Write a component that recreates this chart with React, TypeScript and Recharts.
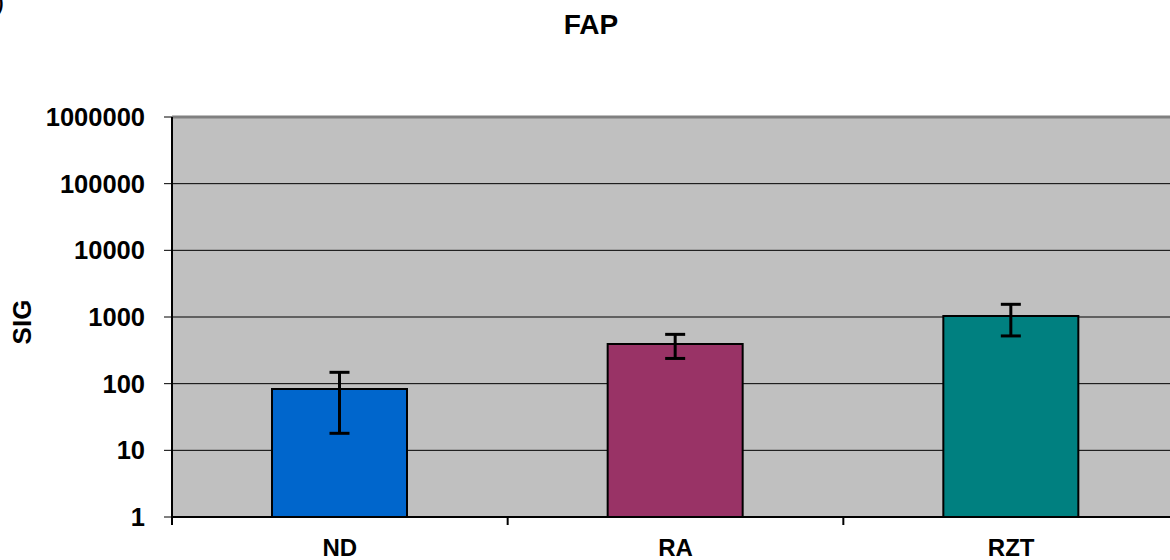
import { BarChart, Bar, Cell, XAxis, YAxis, CartesianGrid, ErrorBar, ReferenceLine, Label } from "recharts";

const groups = ["ND", "RA", "RZT"];
const sigValues = [83, 394, 1035];
const sigErrors = [65, 155, 515];
const barColors = ["#0066CC", "#993366", "#008080"];
const yTicks = [1, 10, 100, 1000, 10000, 100000, 1000000];

const data = groups.map((name, i) => ({
  name,
  sig: sigValues[i],
  err: sigErrors[i],
}));

const FONT = '"Liberation Sans", Arial, sans-serif';
const CHART_W = 1190;
const CHART_H = 560;
const MARGIN = { top: 117, right: 11, bottom: 0, left: 0 };
const Y_AXIS_W = 172;
const BAND = (CHART_W - MARGIN.left - MARGIN.right - Y_AXIS_W) / groups.length;

const CategoryTick = ({ x, y, payload, index }: any) => (
  <g>
    <line x1={x - BAND / 2} x2={x - BAND / 2} y1={y - 22} y2={y - 14} stroke="#000" strokeWidth={2} />
    {index === groups.length - 1 && (
      <line x1={x + BAND / 2} x2={x + BAND / 2} y1={y - 22} y2={y - 14} stroke="#000" strokeWidth={2} />
    )}
    <text x={x} y={y} dy="0.71em" textAnchor="middle" fill="#000" fontSize={24} fontWeight="bold" fontFamily={FONT}>
      {payload.value}
    </text>
  </g>
);

export default function App() {
  return (
    <div
      style={{
        position: "absolute",
        left: 0,
        top: 0,
        width: 1170,
        height: 560,
        overflow: "hidden",
        background: "#fff",
        fontFamily: FONT,
      }}
    >
      <div style={{ position: "absolute", left: -5, top: -12, fontSize: 28, lineHeight: "28px", color: "#000" }}>)</div>
      <div
        style={{
          position: "absolute",
          left: 0,
          top: 11,
          width: 1182,
          textAlign: "center",
          fontSize: 28,
          lineHeight: "28px",
          fontWeight: "bold",
          color: "#000",
        }}
      >
        FAP
      </div>
      <BarChart width={CHART_W} height={CHART_H} data={data} margin={MARGIN} barSize={135}>
        <CartesianGrid vertical={false} stroke="#000" strokeWidth={1} fill="#C0C0C0" fillOpacity={1} />
        <XAxis
          dataKey="name"
          height={43}
          axisLine={{ stroke: "#000", strokeWidth: 2 }}
          tickLine={{ stroke: "none" }}
          tickSize={8}
          tickMargin={14}
          tick={<CategoryTick />}
          interval={0}
        />
        <YAxis
          scale="log"
          domain={[1, 1000000]}
          ticks={yTicks}
          allowDataOverflow
          width={Y_AXIS_W}
          axisLine={{ stroke: "#000", strokeWidth: 2 }}
          tickLine={{ stroke: "#000", strokeWidth: 1 }}
          tickSize={8}
          tickMargin={19}
          tick={{ fill: "#000", fontSize: 25.5, fontWeight: "bold", fontFamily: FONT }}
        >
          <Label
            content={({ viewBox }: any) => {
              const cy = viewBox.y + viewBox.height / 2 + 5;
              return (
                <text
                  x={22}
                  y={cy}
                  transform={`rotate(-90, 22, ${cy})`}
                  textAnchor="middle"
                  dominantBaseline="central"
                  fill="#000"
                  fontSize={26}
                  fontWeight="bold"
                  fontFamily={FONT}
                >
                  SIG
                </text>
              );
            }}
          />
        </YAxis>
        <ReferenceLine y={1000000} stroke="#808080" strokeWidth={3} />
        <Bar dataKey="sig" stroke="#000" strokeWidth={2} isAnimationActive={false}>
          {data.map((d, i) => (
            <Cell key={d.name} fill={barColors[i]} />
          ))}
          <ErrorBar dataKey="err" width={10} stroke="#000" strokeWidth={3} direction="y" />
        </Bar>
      </BarChart>
    </div>
  );
}
